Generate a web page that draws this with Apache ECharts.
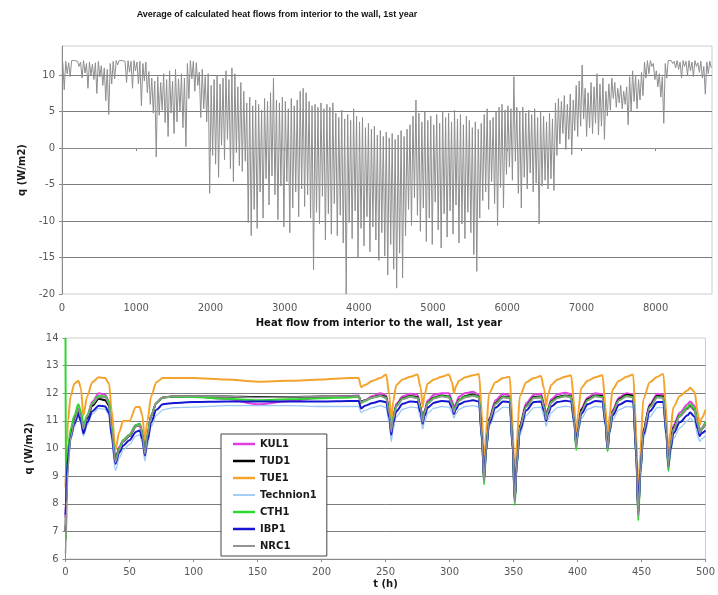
<!DOCTYPE html>
<html>
<head>
<meta charset="utf-8">
<script src="https://cdn.jsdelivr.net/npm/echarts@6/dist/echarts.min.js"></script>
<style>
  html, body { margin: 0; padding: 0; background: #fff; }
  #main { width: 718px; height: 595px; }
</style>
</head>
<body>
<div id="main"></div>
<script>
// ---- Annual trace: one high and one low value per 40-hour block (hour 0 .. 8760) ----
const blockHours = 40;
const yearHigh = [
  11.8, 11.9, 11.7, 12.0, 12.0, 11.9, 11.8, 12.0, 11.6, 11.8,
  11.5, 11.7, 11.9, 11.3, 11.0, 10.8, 11.6, 11.9, 12.0, 12.0,
  12.0, 11.9, 12.0, 11.9, 12.0, 11.8, 11.9, 11.6, 11.8, 10.5,
  9.6, 9.2, 9.8, 9.0, 10.2, 9.4, 10.6, 9.2, 10.8, 9.5,
  10.2, 9.6, 11.6, 12.0, 11.9, 11.7, 10.4, 10.8, 9.8, 10.2,
  8.6, 9.4, 10.0, 8.8, 9.6, 10.6, 9.4, 11.0, 10.2, 8.4,
  9.0, 7.8, 6.2, 7.0, 5.8, 6.6, 6.0, 5.2, 6.8, 6.4,
  7.6, 9.6, 6.6, 6.2, 7.0, 6.4, 5.4, 6.8, 5.8, 6.6,
  7.8, 8.2, 7.6, 6.4, 5.8, 6.0, 5.6, 6.2, 5.4, 6.0,
  5.6, 6.2, 4.8, 4.2, 5.2, 4.0, 4.6, 3.8, 5.4, 4.4,
  3.6, 4.2, 2.8, 3.4, 2.6, 3.0, 1.8, 2.4, 1.6, 2.2,
  1.4, 2.0, 1.2, 1.8, 2.4, 1.6, 2.6, 3.2, 4.4, 6.6,
  4.8, 3.6, 5.0, 3.8, 4.4, 3.2, 4.6, 3.4, 5.0, 4.2,
  4.8, 3.6, 5.2, 4.0, 4.6, 3.2, 4.4, 3.8, 2.8, 3.6,
  2.6, 3.4, 4.6, 5.4, 3.8, 4.2, 5.0, 5.6, 6.0, 5.2,
  5.8, 5.4, 9.8, 5.6, 5.0, 5.6, 4.8, 5.2, 4.6, 5.4,
  4.2, 5.0, 4.4, 3.6, 4.8, 4.0, 6.2, 6.8, 6.4, 7.2,
  6.0, 7.4, 6.6, 8.6, 9.2, 11.4, 8.2, 7.6, 9.0, 8.4,
  10.2, 8.8, 9.6, 7.8, 8.8, 9.6, 9.0, 8.2, 8.6, 7.8,
  8.4, 9.8, 10.6, 10.0, 9.4, 10.4, 11.8, 12.0, 12.0, 11.6,
  10.6, 10.2, 9.8, 11.6, 12.0, 12.0, 11.9, 12.0, 11.8, 12.0,
  11.9, 12.0, 11.8, 12.0, 11.7, 11.9, 11.2, 11.8, 11.9
];
const yearLow = [
  8.0, 10.2, 9.8, 11.8, 11.9, 11.2, 9.6, 10.3, 8.2, 10.0,
  9.4, 7.5, 9.8, 8.6, 6.5, 4.6, 8.8, 9.5, 11.4, 11.9,
  11.8, 9.0, 10.4, 8.2, 10.6, 8.8, 5.8, 9.2, 7.6, 6.0,
  4.8, -1.2, 4.5, 5.2, 3.5, 1.6, 4.8, 2.0, 3.6, 5.0,
  2.8, 0.2, 6.8, 9.5, 7.8, 8.6, 4.2, 5.4, 3.6, -6.2,
  -1.0, -2.2, -4.0, 0.4, -1.6, 1.2, -2.8, -4.6, -0.6, -2.4,
  -3.2, -1.8, -10.2, -12.0, -8.4, -11.0, -6.0, -9.6, -4.2, -7.8,
  -3.8, -6.4, -9.8, -5.2, -10.8, -4.6, -11.6, -8.2, -6.0, -9.4,
  -5.6, -8.0, -6.4, -9.6, -16.7, -8.8, -10.4, -6.6, -12.6, -9.0,
  -11.8, -7.6, -12.0, -9.2, -13.0, -20.0, -10.2, -12.4, -8.6, -15.0,
  -11.0, -13.4, -9.4, -14.2, -10.8, -12.6, -15.4, -11.6, -14.8, -17.4,
  -13.2, -16.6, -19.2, -14.4, -17.8, -12.0, -8.4, -10.6, -6.8, -9.2,
  -11.4, -8.2, -12.8, -9.6, -13.2, -7.4, -11.2, -13.7, -9.0, -12.2,
  -8.6, -11.8, -7.8, -13.0, -10.4, -12.4, -8.8, -11.6, -14.6, -16.9,
  -9.6, -7.2, -6.0, -8.4, -4.6, -7.6, -10.6, -5.4, -8.2, -3.6,
  -2.6, -4.4, -1.8, -6.2, -8.2, -4.0, -5.6, -3.4, -6.0, -4.8,
  -10.4, -5.2, -4.4, -5.6, -4.2, -5.8, -1.0, 0.6, 2.0, -0.2,
  1.2, -0.9, 2.4, 1.6, 3.0, 4.0, 1.6, 2.8, 2.0, 3.4,
  1.8, 3.0, 1.2, 4.4, 5.2, 6.8, 5.6, 6.2, 5.4, 6.0,
  3.2, 5.0, 6.4, 5.4, 6.6, 7.2, 9.6, 10.2, 11.2, 9.4,
  8.4, 7.0, 3.4, 9.6, 11.8, 11.6, 11.0, 10.8, 9.6, 11.2,
  10.0, 10.6, 9.8, 11.2, 10.4, 9.6, 7.4, 10.2, 11.0
];

// ---- First 500 hours, seven models ----
const hours = [
  0, 0.5, 1, 2, 4, 7, 10, 12, 14, 17, 21, 26, 31, 34, 36, 39, 42, 45, 50, 55,
  58, 60, 62, 64, 67, 71, 76, 85, 100, 125, 150, 175, 200, 222, 229, 231, 234, 240, 246,
  250.5, 253, 254.5, 256, 258.5, 263.5, 269.5,
  275, 277.5, 279, 280.5, 283, 288, 294,
  299.5, 302, 303.5, 305, 307.5, 312.5, 318.5,
  323, 325.5, 327, 328.5, 331, 336, 342,
  347, 349.5, 351, 352.5, 355, 360, 366,
  371.5, 374, 375.5, 377, 379.5, 384.5, 390.5,
  395, 397.5, 399, 400.5, 403, 408, 414,
  419.5, 422, 423.5, 425, 427.5, 432.5, 438.5,
  443.5, 446, 447.5, 449, 451.5, 456.5, 462.5,
  467, 469.5, 471, 472.5, 475, 480, 486,
  488, 491.5, 494, 495.5, 497, 500
];
const kul1 = [
  7.5, 8.3, 9.0, 9.8, 10.6, 11.1, 11.45, 11.2, 10.7, 11.2, 11.7, 12.0, 11.95, 11.7, 10.8, 9.6, 10.05, 10.3, 10.5, 10.85,
  10.9, 10.6, 9.9, 10.5, 11.2, 11.65, 11.85, 11.9, 11.88, 11.8, 11.6, 11.72, 11.85, 11.9, 11.92, 11.65, 11.75, 11.9, 12.0,
  11.92, 11.36, 10.7, 11.16, 11.62, 11.89, 11.98,
  11.95, 11.53, 11.0, 11.37, 11.74, 11.95, 12.0,
  12.0, 11.74, 11.4, 11.64, 11.88, 12.01, 12.05,
  11.95, 10.45, 8.85, 9.98, 11.1, 11.75, 11.98,
  11.92, 10.1, 8.1, 9.5, 10.85, 11.65, 11.95,
  11.98, 11.6, 11.15, 11.46, 11.78, 11.96, 12.02,
  11.96, 11.1, 10.1, 10.8, 11.45, 11.85, 12.0,
  11.96, 11.05, 10.0, 10.72, 11.4, 11.85, 12.0,
  11.95, 9.85, 7.6, 9.15, 10.7, 11.6, 11.98,
  11.95, 10.7, 9.4, 10.15, 10.85, 11.3, 11.6,
  11.7, 11.55, 10.95, 10.6, 10.75, 10.95
];
const tud1 = [
  7.0, 8.0, 8.8, 9.7, 10.5, 11.0, 11.35, 11.1, 10.65, 11.1, 11.55, 11.8, 11.75, 11.55, 10.7, 9.6, 10.0, 10.25, 10.45, 10.8,
  10.85, 10.55, 9.9, 10.5, 11.2, 11.65, 11.85, 11.88, 11.88, 11.88, 11.86, 11.86, 11.88, 11.88, 11.88, 11.7, 11.75, 11.85, 11.92,
  11.86, 11.3, 10.65, 11.1, 11.56, 11.82, 11.9,
  11.86, 11.47, 11.0, 11.33, 11.66, 11.85, 11.92,
  11.88, 11.65, 11.35, 11.56, 11.77, 11.9, 11.95,
  11.88, 10.4, 8.85, 9.95, 11.05, 11.65, 11.88,
  11.85, 10.05, 8.1, 9.45, 10.8, 11.55, 11.86,
  11.88, 11.52, 11.1, 11.4, 11.7, 11.86, 11.92,
  11.88, 11.05, 10.1, 10.75, 11.4, 11.78, 11.92,
  11.9, 11.0, 9.95, 10.66, 11.35, 11.78, 11.95,
  11.9, 9.8, 7.6, 9.1, 10.65, 11.55, 11.9,
  11.88, 10.65, 9.4, 10.1, 10.75, 11.2, 11.45,
  11.55, 11.4, 10.85, 10.55, 10.7, 10.9
];
const tue1 = [
  8.6, 9.5, 10.2, 11.0, 11.9, 12.35, 12.45, 12.2, 11.2, 11.9, 12.4, 12.58, 12.55, 12.35, 11.4, 9.95, 10.6, 11.0, 11.0, 11.5,
  11.5, 11.2, 10.3, 11.0, 11.9, 12.4, 12.55, 12.55, 12.55, 12.5, 12.42, 12.45, 12.5, 12.55, 12.55, 12.22, 12.3, 12.45, 12.55,
  12.68, 11.95, 10.9, 11.7, 12.3, 12.5, 12.6,
  12.68, 12.2, 11.5, 11.95, 12.35, 12.5, 12.6,
  12.68, 12.4, 12.0, 12.25, 12.45, 12.58, 12.65,
  12.7, 11.2, 9.0, 10.6, 12.0, 12.4, 12.55,
  12.6, 10.8, 8.2, 10.2, 11.9, 12.4, 12.55,
  12.62, 12.15, 11.55, 11.95, 12.3, 12.5, 12.6,
  12.65, 11.6, 10.25, 11.3, 12.2, 12.45, 12.58,
  12.65, 11.5, 10.1, 11.2, 12.15, 12.45, 12.6,
  12.68, 10.6, 7.7, 9.8, 11.8, 12.4, 12.6,
  12.7, 11.3, 9.55, 10.6, 11.5, 11.9, 12.1,
  12.2, 12.05, 11.3, 10.85, 11.1, 11.4
];
const technion1 = [
  7.2, 7.8, 8.8, 9.5, 10.3, 10.8, 11.15, 10.9, 10.45, 10.85, 11.25, 11.45, 11.42, 11.2, 10.3, 9.2, 9.65, 9.95, 10.15, 10.45,
  10.5, 10.2, 9.55, 10.1, 10.8, 11.2, 11.4, 11.48, 11.5, 11.55, 11.55, 11.55, 11.52, 11.52, 11.52, 11.3, 11.38, 11.48, 11.55,
  11.48, 10.9, 10.25, 10.7, 11.15, 11.42, 11.5,
  11.48, 11.1, 10.7, 10.98, 11.28, 11.46, 11.52,
  11.5, 11.3, 11.1, 11.25, 11.42, 11.52, 11.55,
  11.5, 10.2, 8.9, 9.85, 10.8, 11.3, 11.5,
  11.48, 9.85, 8.15, 9.3, 10.5, 11.2, 11.48,
  11.5, 11.15, 10.8, 11.05, 11.3, 11.48, 11.53,
  11.5, 10.78, 10.0, 10.55, 11.08, 11.42, 11.52,
  11.5, 10.75, 9.95, 10.5, 11.05, 11.4, 11.52,
  11.5, 9.6, 7.7, 9.0, 10.35, 11.15, 11.48,
  11.48, 10.3, 9.15, 9.75, 10.35, 10.75, 11.0,
  11.1, 10.95, 10.45, 10.25, 10.35, 10.45
];
const cth1 = [
  14.0, 6.7, 9.4, 10.0, 10.7, 11.2, 11.6, 11.35, 10.85, 11.2, 11.65, 11.9, 11.88, 11.7, 10.8, 9.55, 10.0, 10.3, 10.5, 10.85,
  10.9, 10.55, 9.85, 10.5, 11.2, 11.65, 11.85, 11.88, 11.86, 11.8, 11.75, 11.78, 11.82, 11.85, 11.88, 11.65, 11.72, 11.85, 11.9,
  11.84, 11.28, 10.65, 11.1, 11.55, 11.8, 11.88,
  11.84, 11.46, 11.0, 11.32, 11.65, 11.83, 11.9,
  11.86, 11.64, 11.35, 11.55, 11.76, 11.88, 11.92,
  11.86, 10.3, 8.7, 9.85, 11.0, 11.62, 11.86,
  11.84, 9.95, 7.95, 9.35, 10.75, 11.52, 11.84,
  11.86, 11.5, 11.1, 11.38, 11.68, 11.84, 11.9,
  11.86, 10.95, 9.95, 10.65, 11.33, 11.75, 11.9,
  11.86, 10.95, 9.9, 10.62, 11.32, 11.75, 11.9,
  11.86, 9.65, 7.4, 8.95, 10.55, 11.5, 11.86,
  11.85, 10.55, 9.2, 9.95, 10.7, 11.2, 11.5,
  11.6, 11.45, 10.9, 10.55, 10.72, 10.95
];
const ibp1 = [
  7.6, 8.0, 9.0, 9.7, 10.4, 10.9, 11.25, 11.0, 10.55, 10.95, 11.35, 11.55, 11.52, 11.3, 10.5, 9.45, 9.85, 10.1, 10.3, 10.6,
  10.65, 10.35, 9.75, 10.3, 10.95, 11.4, 11.6, 11.65, 11.68, 11.7, 11.7, 11.7, 11.7, 11.72, 11.72, 11.45, 11.55, 11.65, 11.72,
  11.68, 11.12, 10.5, 10.92, 11.35, 11.62, 11.7,
  11.68, 11.3, 10.9, 11.18, 11.48, 11.66, 11.72,
  11.7, 11.48, 11.25, 11.42, 11.6, 11.7, 11.75,
  11.7, 10.3, 8.9, 9.9, 10.9, 11.48, 11.7,
  11.68, 9.95, 8.15, 9.4, 10.65, 11.38, 11.68,
  11.7, 11.35, 11.0, 11.25, 11.52, 11.68, 11.73,
  11.7, 10.95, 10.15, 10.7, 11.25, 11.6, 11.72,
  11.7, 10.85, 10.0, 10.6, 11.2, 11.58, 11.72,
  11.7, 9.7, 7.7, 9.1, 10.5, 11.35, 11.68,
  11.68, 10.5, 9.35, 9.95, 10.55, 10.95, 11.2,
  11.3, 11.15, 10.7, 10.45, 10.55, 10.65
];
const nrc1 = [
  6.2, 6.8, 8.2, 9.3, 10.4, 11.0, 11.4, 11.15, 10.7, 11.15, 11.6, 11.85, 11.85, 11.6, 10.7, 9.5, 9.95, 10.25, 10.45, 10.8,
  10.85, 10.5, 9.8, 10.45, 11.2, 11.65, 11.85, 11.9, 11.9, 11.88, 11.85, 11.86, 11.88, 11.9, 11.9, 11.68, 11.75, 11.85, 11.9,
  11.82, 11.25, 10.6, 11.05, 11.52, 11.78, 11.86,
  11.82, 11.43, 10.95, 11.28, 11.62, 11.8, 11.88,
  11.84, 11.6, 11.3, 11.51, 11.72, 11.85, 11.9,
  11.84, 10.35, 8.8, 9.9, 11.0, 11.6, 11.84,
  11.82, 10.0, 8.05, 9.4, 10.75, 11.5, 11.82,
  11.84, 11.46, 11.05, 11.34, 11.65, 11.82, 11.88,
  11.84, 11.0, 10.05, 10.68, 11.33, 11.74, 11.88,
  11.84, 10.95, 9.95, 10.63, 11.3, 11.74, 11.88,
  11.84, 9.75, 7.55, 9.05, 10.6, 11.5, 11.84,
  11.84, 10.6, 9.35, 10.05, 10.7, 11.15, 11.42,
  11.5, 11.35, 10.85, 10.55, 10.7, 10.88
];

const models = [
  { name: 'KUL1',      values: kul1,      color: '#e23fe0', width: 2 },
  { name: 'TUD1',      values: tud1,      color: '#000000', width: 2 },
  { name: 'TUE1',      values: tue1,      color: '#f4a42c', width: 2 },
  { name: 'Technion1', values: technion1, color: '#9cc8f4', width: 1.3 },
  { name: 'CTH1',      values: cth1,      color: '#2ed62e', width: 2 },
  { name: 'IBP1',      values: ibp1,      color: '#1616d2', width: 2 },
  { name: 'NRC1',      values: nrc1,      color: '#939393', width: 1.5 }
];

// interleave the block highs and lows into one hourly trace
const yearTrace = [];
for (let i = 0; i < yearHigh.length; i++) {
  yearTrace.push([i * blockHours + 10, yearHigh[i]]);
  yearTrace.push([i * blockHours + 30, yearLow[i]]);
}

// legend key: a short horizontal bar centred in a 22 x 14 box
function legendBar(thickness) {
  const y0 = 7 - thickness / 2, y1 = 7 + thickness / 2;
  return 'path://M0,0 M22,14 M0,' + y0 + ' L22,' + y0 + ' L22,' + y1 + ' L0,' + y1 + ' Z';
}

const labelFont = { fontFamily: 'DejaVu Sans', fontSize: 10, color: '#585858' };
const nameFont = { fontFamily: 'DejaVu Sans', fontSize: 10, fontWeight: 'bold', color: '#1a1a1a' };
const gridLineColor = '#7c7c7c';
const axisColor = '#8a8a8a';
const plainNumber = v => String(v);

const chart = echarts.init(document.getElementById('main'), null, { renderer: 'canvas' });
chart.setOption({
  animation: false,
  backgroundColor: '#ffffff',
  graphic: [
    { type: 'text', x: 277, y: 15,
      style: { text: 'Average of calculated heat flows from interior to the wall, 1st year',
               align: 'center', verticalAlign: 'middle',
               font: 'bold 9px "Liberation Sans", Arial, sans-serif', fill: '#111' } },
    { type: 'text', x: 379, y: 323,
      style: { text: 'Heat flow from interior to the wall, 1st year',
               align: 'center', verticalAlign: 'middle',
               font: 'bold 10px "DejaVu Sans", sans-serif', fill: '#111' } }
  ],
  grid: [
    { left: 62, top: 46, width: 650, height: 248, show: true, borderColor: '#cccccc', borderWidth: 1 },
    { left: 65.5, top: 338, width: 643.5, height: 221, show: true, borderColor: '#cccccc', borderWidth: 1 }
  ],
  xAxis: [
    { type: 'value', gridIndex: 0, min: 0, max: 8760, interval: 1000,
      axisLine: { onZero: true, lineStyle: { color: axisColor } },
      axisTick: { show: true, length: 3, lineStyle: { color: axisColor } },
      axisLabel: Object.assign({ margin: 9, showMaxLabel: false, formatter: plainNumber }, labelFont),
      splitLine: { show: false } },
    { type: 'value', gridIndex: 1, min: 0, max: 500, interval: 50,
      name: 't (h)', nameLocation: 'middle', nameGap: 20, nameTextStyle: nameFont,
      axisLine: { lineStyle: { color: axisColor } },
      axisTick: { show: true, length: 3, lineStyle: { color: axisColor } },
      axisLabel: Object.assign({ margin: 8, formatter: plainNumber }, labelFont),
      splitLine: { show: false } }
  ],
  yAxis: [
    { type: 'value', gridIndex: 0, min: -20, max: 14, interval: 5,
      name: 'q (W/m2)', nameLocation: 'middle', nameGap: 30, nameTextStyle: nameFont,
      axisLine: { show: true, lineStyle: { color: axisColor } },
      axisTick: { show: true, length: 3, lineStyle: { color: axisColor } },
      axisLabel: Object.assign({ margin: 7, showMaxLabel: false }, labelFont),
      splitLine: { show: true, showMinLine: false, showMaxLine: false,
                   lineStyle: { color: gridLineColor, width: 1 } } },
    { type: 'value', gridIndex: 1, min: 6, max: 14, interval: 1,
      name: 'q (W/m2)', nameLocation: 'middle', nameGap: 28, nameTextStyle: nameFont,
      axisLine: { show: true, lineStyle: { color: axisColor } },
      axisTick: { show: true, length: 3, lineStyle: { color: axisColor } },
      axisLabel: Object.assign({ margin: 7 }, labelFont),
      splitLine: { show: true, showMinLine: false, showMaxLine: false,
                   lineStyle: { color: gridLineColor, width: 1 } } }
  ],
  legend: {
    orient: 'vertical', left: 221, top: 434,
    padding: [3, 10, 3, 12], itemWidth: 22, itemHeight: 14, itemGap: 3,
    backgroundColor: '#ffffff', borderColor: '#444444', borderWidth: 1, borderRadius: 0,
    textStyle: { fontFamily: 'DejaVu Sans', fontSize: 10, fontWeight: 'bold', color: '#1a1a1a' },
    data: models.map(m => ({ name: m.name, icon: legendBar(m.width + 0.5) }))
  },
  series: [
    { type: 'line', xAxisIndex: 0, yAxisIndex: 0, data: yearTrace,
      symbol: 'none', silent: true,
      lineStyle: { color: '#8e8e8e', width: 1 } }
  ].concat(models.map(m => ({
    type: 'line', name: m.name, xAxisIndex: 1, yAxisIndex: 1,
    data: hours.map((h, i) => [h, m.values[i]]),
    symbol: 'none', smooth: 0.3, smoothMonotone: 'x',
    itemStyle: { color: m.color },
    lineStyle: { color: m.color, width: m.width }
  })))
});
</script>
</body>
</html>
